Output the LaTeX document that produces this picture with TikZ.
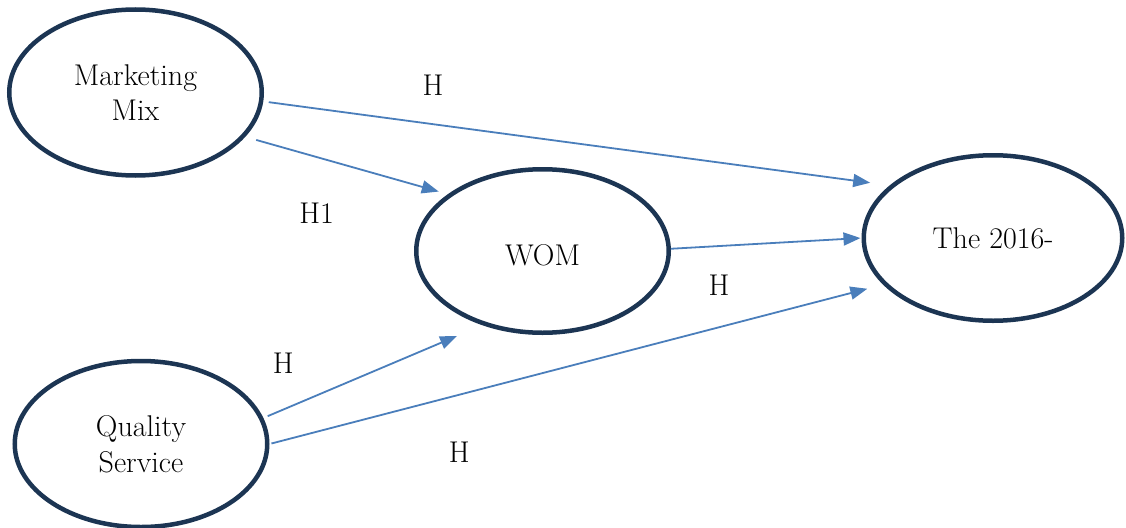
\documentclass[tikz,border=0pt]{standalone}
\usetikzlibrary{shapes.geometric,arrows.meta}
\definecolor{navy}{HTML}{1C3553}
\definecolor{linkblue}{HTML}{4A7EBB}
\begin{document}
\begin{tikzpicture}[x=1pt,y=-1pt,
  construct/.style={ellipse,draw=navy,line width=4.5pt,minimum width=252.5pt,
    minimum height=166pt,inner sep=0pt,align=center,
    font=\fontsize{30pt}{35.7pt}\selectfont},
  link/.style={draw=linkblue,line width=1.8pt,-{Triangle[length=17pt,width=13pt]}},
  hyp/.style={font=\fontsize{30pt}{34pt}\selectfont,inner sep=0pt}]
\useasboundingbox (0,0) rectangle (1126,527);

% constructs
\node[construct] (mm) at (135.5,92.5) {Marketing\\Mix};
\node[construct] (qs) at (141,444) {Quality\\Service};
\node[construct,minimum height=163.5pt,text height=28pt,text depth=0pt] (wom) at (542.5,251) {WOM};
\node[construct,minimum width=258.5pt,minimum height=165.5pt] (tt) at (993,238) {The 2016-};

% hypothesised paths
\draw[link,shorten <=5.5pt,shorten >=19.7pt] (mm.-4.3) -- (tt.153.9);
\draw[link,shorten <=11.4pt,shorten >=9.5pt] (mm.-22.07) -- (wom.149.5);
\draw[link,shorten >=1pt] (wom.1.7) -- (tt.180);
\draw[link,shorten <=4.7pt,shorten >=27.5pt] (qs.12.33) -- (wom.-129.2);
\draw[link,shorten <=2pt,shorten >=16.3pt] (qs.0.8) -- (tt.203.4);

% hypothesis labels
\node[hyp] (h1) at (433,85) {H};
\node[hyp] (h2) at (316.7,213) {H1};
\node[hyp] (h3) at (719,285.7) {H};
\node[hyp] (h4) at (283.3,363.3) {H};
\node[hyp] (h5) at (459.3,452.7) {H};
\end{tikzpicture}
\end{document}
